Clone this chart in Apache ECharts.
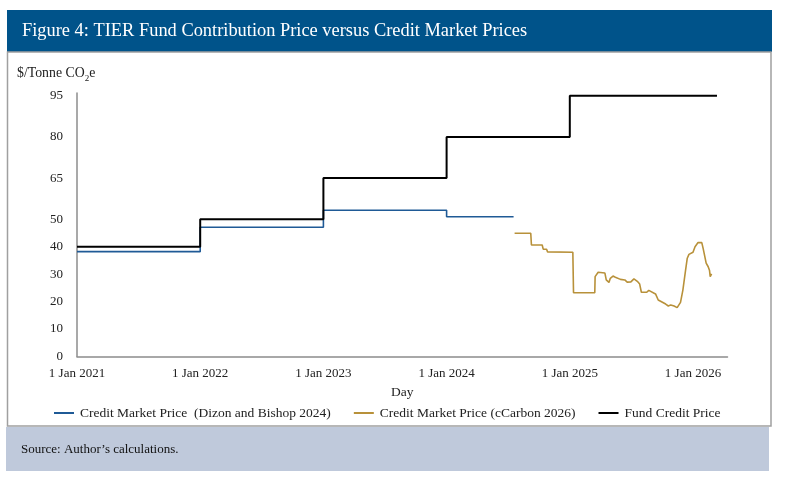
<!DOCTYPE html>
<html>
<head>
<meta charset="utf-8">
<script src="https://cdn.jsdelivr.net/npm/echarts@6/dist/echarts.min.js"></script>
<style>
html,body{margin:0;padding:0;background:#fff;}
#chart{width:800px;height:492px;}
</style>
</head>
<body>
<div id="chart"></div>
<script>
// ---- Data ----
const yTickLabels = [0, 10, 20, 30, 40, 50, 65, 80, 95];
const xTickYears = [2021, 2022, 2023, 2024, 2025, 2026];

const fundDates  = ['2021-01-01','2022-01-01','2023-01-01','2024-01-01','2025-01-01','2026-03-13'];
const fundPrices = [40, 50, 65, 80, 95, 95];

const dizonDates  = ['2021-01-01','2022-01-01','2023-01-01','2024-01-01','2024-07-18'];
const dizonPrices = [38.2, 47.1, 53.3, 50.9, 50.9];

const cCarbonDates = [
  '2024-07-21','2024-07-26','2024-07-30','2024-09-07','2024-09-09','2024-10-11','2024-10-14','2024-10-24',
  '2024-10-27','2025-01-10','2025-01-12','2025-03-16','2025-03-17','2025-03-26','2025-03-30','2025-04-15',
  '2025-04-19','2025-04-27','2025-05-01','2025-05-09','2025-05-16','2025-05-31','2025-06-13','2025-06-20',
  '2025-07-01','2025-07-10','2025-07-20','2025-07-27','2025-08-01','2025-08-17','2025-08-23','2025-09-12',
  '2025-09-20','2025-10-12','2025-10-20','2025-10-27','2025-11-06','2025-11-15','2025-11-20','2025-11-25',
  '2025-12-02','2025-12-10','2025-12-15','2025-12-20','2026-01-01','2026-01-07','2026-01-16','2026-01-21',
  '2026-01-27','2026-01-31','2026-02-09','2026-02-15','2026-02-19','2026-02-21','2026-02-25'
];
const cCarbonPrices = [
  44.9, 44.3, 44.9, 44.9, 40.6, 40.6, 39.1, 39.1,
  38.1, 38.0, 23.2, 23.2, 29.1, 30.7, 30.9, 30.4,
  27.9, 27.0, 28.5, 29.3, 28.9, 28.1, 27.9, 27.1,
  27.2, 28.3, 27.4, 26.4, 23.4, 23.4, 24.1, 22.8,
  20.6, 19.1, 18.4, 18.8, 18.4, 17.8, 17.9, 19.7,
  24.2, 31.5, 35.8, 37.2, 38.0, 40.0, 41.5, 41.0,
  41.5, 39.4, 34.0, 32.7, 31.3, 29.1, 30.1
];

const seriesNames = [
  'Credit Market Price  (Dizon and Bishop 2024)',
  'Credit Market Price (cCarbon 2026)',
  'Fund Credit Price'
];
const seriesColors = ['#1f5a96', '#b8913a', '#000000'];

// ---- helpers ----
function toYear(s) {
  const d = Date.parse(s + 'T00:00:00Z');
  const y = new Date(d).getUTCFullYear();
  const a = Date.UTC(y, 0, 1), b = Date.UTC(y + 1, 0, 1);
  return y + (d - a) / (b - a);
}
function pairs(dates, vals) { return dates.map((d, i) => [toYear(d), vals[i]]); }

const FONT = '"Liberation Serif", "DejaVu Serif", serif';

const chart = echarts.init(document.getElementById('chart'), null, {renderer: 'canvas'});
chart.setOption({
  animation: false,
  backgroundColor: '#ffffff',
  textStyle: {fontFamily: FONT},
  graphic: [
    {type: 'rect', z: -10, shape: {x: 7, y: 10, width: 765, height: 42}, style: {fill: '#00538a'}},
    {type: 'rect', z: -10, shape: {x: 7.5, y: 52, width: 763.5, height: 374}, style: {fill: '#ffffff', stroke: '#a0a0a0', lineWidth: 1.5}},
    {type: 'rect', z: -10, shape: {x: 6, y: 427, width: 763, height: 44}, style: {fill: '#bfc9db'}},
    {type: 'text', left: 22, top: 22, style: {text: 'Figure 4: TIER Fund Contribution Price versus Credit Market Prices', fill: '#ffffff', font: '18.4px ' + FONT}},
    {type: 'text', left: 21, top: 443, style: {text: 'Source: Author\u2019s calculations.', fill: '#111111', font: '13px ' + FONT}},
    {type: 'text', left: 17, top: 66, style: {
      text: '{a|$/Tonne CO}{b|2}{a|e}',
      fill: '#222',
      rich: {
        a: {fontSize: 13.8, fontFamily: FONT, lineHeight: 16, verticalAlign: 'bottom', fill: '#222'},
        b: {fontSize: 9, fontFamily: FONT, lineHeight: 16, verticalAlign: 'bottom', padding: [0,0,-3,0], fill: '#222'}
      }
    }}
  ],
  legend: {
    left: 49, top: 401,
    itemWidth: 20, itemHeight: 2, itemGap: 23,
    icon: 'rect',
    textStyle: {fontFamily: FONT, fontSize: 13.5, color: '#222', padding: [0,0,0,1]},
    data: seriesNames
  },
  grid: {left: 77, right: 72.5, top: 93, bottom: 135.5, containLabel: false},
  xAxis: {
    type: 'value', min: xTickYears[0], max: 2026.28, interval: 1,
    name: 'Day', nameLocation: 'middle', nameGap: 29,
    nameTextStyle: {fontFamily: FONT, fontSize: 13.5, color: '#222'},
    axisLine: {show: true, lineStyle: {color: '#8c8c8c', width: 1.5}},
    axisTick: {show: false},
    splitLine: {show: false},
    axisLabel: {
      margin: 11, fontFamily: FONT, fontSize: 13, color: '#222',
      formatter: v => xTickYears.indexOf(v) >= 0 ? '1 Jan ' + v : ''
    }
  },
  yAxis: {
    type: 'value', min: 0, max: 96, interval: 5,
    axisLine: {show: true, lineStyle: {color: '#8c8c8c', width: 1.5}},
    axisTick: {show: false},
    splitLine: {show: false},
    axisLabel: {
      margin: 14, fontFamily: FONT, fontSize: 13, color: '#222',
      formatter: v => yTickLabels.indexOf(v) >= 0 ? String(v) : ''
    }
  },
  series: [
    {name: seriesNames[0], type: 'line', step: 'end', showSymbol: false, symbol: 'none',
     data: pairs(dizonDates, dizonPrices), lineStyle: {color: seriesColors[0], width: 1.6}, itemStyle: {color: seriesColors[0]}, z: 2},
    {name: seriesNames[1], type: 'line', showSymbol: false, symbol: 'none',
     data: pairs(cCarbonDates, cCarbonPrices), lineStyle: {color: seriesColors[1], width: 1.6}, itemStyle: {color: seriesColors[1]}, z: 2},
    {name: seriesNames[2], type: 'line', step: 'end', showSymbol: false, symbol: 'none',
     data: pairs(fundDates, fundPrices), lineStyle: {color: seriesColors[2], width: 2}, itemStyle: {color: seriesColors[2]}, z: 3}
  ]
});
</script>
</body>
</html>
